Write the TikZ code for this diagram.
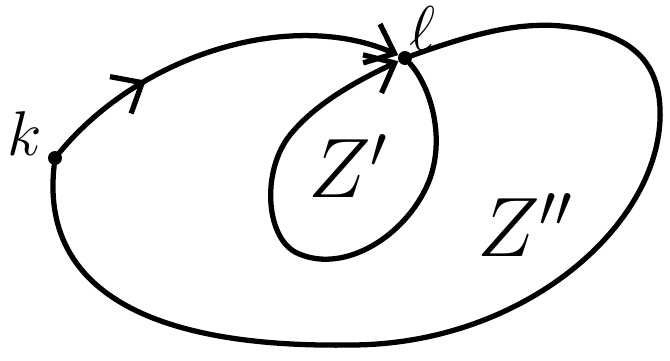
\RequirePackage{fix-cm}
\documentclass[tikz,border=0pt]{standalone}
\usepackage{amsmath,amssymb}
\usepackage{tikz}
\usetikzlibrary{calc,positioning,decorations.markings,arrows.meta}
\tikzset{
  curve/.style={line width=3pt,line cap=round,line join=round},
  tip/.style={-{Straight Barb[length=5mm,width=8.5mm,line width=3pt]}},
  midarrow/.style={postaction={decorate},decoration={markings,
      mark=at position #1 with {\arrow{Straight Barb[length=5mm,width=8.5mm,line width=3pt]}}}},
  vertex/.style={circle,fill=black,inner sep=0pt,minimum size=0.28cm},
  region/.style={font=\fontsize{48}{48}\selectfont},
  ptlabel/.style={font=\fontsize{36}{36}\selectfont},
}

\begin{document}
\begin{tikzpicture}[x=0.02cm,y=0.02cm]
  \useasboundingbox (0,0) rectangle (670,360);
  \node[vertex,label={[ptlabel,xshift=0pt,yshift=14pt]left:{$k$}}] (k) at (55,202) {};
  \node[vertex,label={[ptlabel,xshift=-4pt,yshift=-2pt]above right:{$\ell$}}] (l) at (405,302) {};
  % k to l
  \draw[curve,tip,midarrow=0.3] (k) .. controls (140,305) and (290,352) .. (l);
  % outer region
  \draw[curve] (l) .. controls (470,325) and (520,340) .. (570,333)
                   .. controls (640,325) and (662,290) .. (660,240)
                   .. controls (655,130) and (520,15) .. (350,15)
                   .. controls (150,12) and (40,70) .. (k);
  % inner loop
  \draw[curve,tip] (l) .. controls (432,272) and (448,215) .. (425,170)
                       .. controls (400,120) and (340,85) .. (295,108)
                       .. controls (265,125) and (262,190) .. (290,225)
                       .. controls (320,262) and (370,285) .. (l);
  \node[region] (zi) at (348,194) {$Z'$};
  \node[region] (zo) at (525,135) {$Z''$};
\end{tikzpicture}
\end{document}
